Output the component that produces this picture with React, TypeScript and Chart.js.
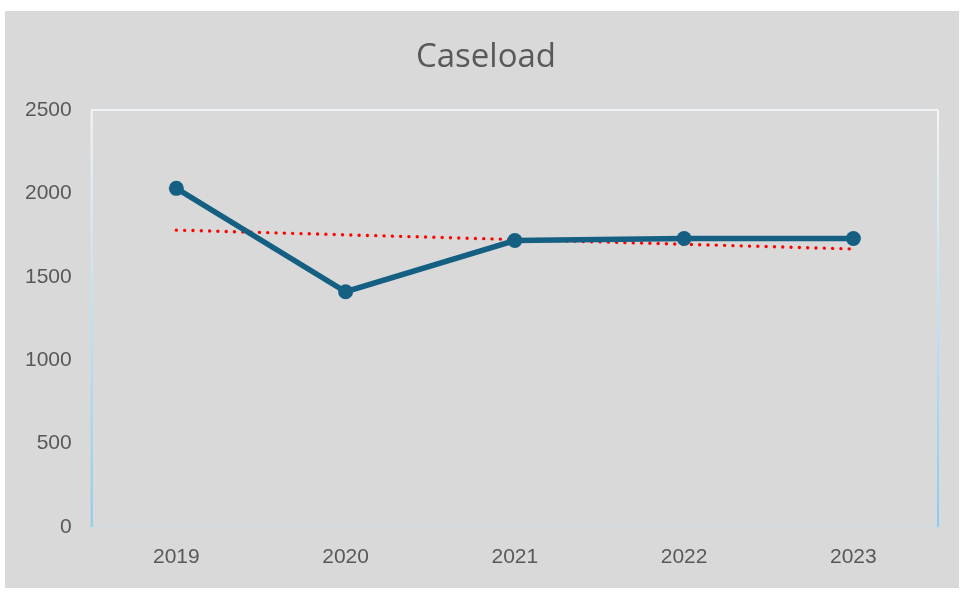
import React, { useEffect, useRef } from "react";
import { Chart, registerables } from "chart.js";

Chart.register(...registerables);

const title = "Caseload";
const years = ["2019", "2020", "2021", "2022", "2023"];
const caseload = [2030, 1410, 1717, 1729, 1729];
const yTicks = [0, 500, 1000, 1500, 2000, 2500];

function linearTrend(values: number[]): number[] {
  const n = values.length;
  const xs = values.map((_, i) => i + 1);
  const mx = xs.reduce((a, b) => a + b, 0) / n;
  const my = values.reduce((a, b) => a + b, 0) / n;
  let num = 0;
  let den = 0;
  for (let i = 0; i < n; i++) {
    num += (xs[i] - mx) * (values[i] - my);
    den += (xs[i] - mx) * (xs[i] - mx);
  }
  const slope = num / den;
  return xs.map((x) => my + slope * (x - mx));
}

const plotBorder = {
  id: "plotBorder",
  afterDraw(chart: any) {
    const { ctx, chartArea } = chart;
    const { left, right, top, bottom } = chartArea;
    ctx.save();
    ctx.lineWidth = 2;
    ctx.strokeStyle = "#eef4f8";
    ctx.beginPath();
    ctx.moveTo(left, top);
    ctx.lineTo(right, top);
    ctx.stroke();
    ctx.strokeStyle = "#d0dbe0";
    ctx.beginPath();
    ctx.moveTo(left, bottom);
    ctx.lineTo(right, bottom);
    ctx.stroke();
    const g = ctx.createLinearGradient(0, top, 0, bottom);
    g.addColorStop(0, "#f2f6f9");
    g.addColorStop(1, "#86cdf0");
    ctx.strokeStyle = g;
    ctx.beginPath();
    ctx.moveTo(left, top);
    ctx.lineTo(left, bottom);
    ctx.moveTo(right, top);
    ctx.lineTo(right, bottom);
    ctx.stroke();
    // title
    ctx.fillStyle = "#595959";
    ctx.font = "33px 'Open Sans', sans-serif";
    ctx.textAlign = "center";
    ctx.textBaseline = "alphabetic";
    ctx.fillText(title, chart.width / 2 + 4, 56);
    ctx.restore();
  },
};

export default function App() {
  const ref = useRef<HTMLCanvasElement | null>(null);

  useEffect(() => {
    if (!ref.current) return;
    const trend = linearTrend(caseload);
    const chart = new Chart(ref.current, {
      type: "line",
      data: {
        labels: years,
        datasets: [
          {
            label: "Trend",
            data: trend,
            borderColor: "#ff0000",
            borderWidth: 3.4,
            borderDash: [0.01, 8.3],
            borderCapStyle: "round",
            pointRadius: 0,
            fill: false,
            order: 2,
          },
          {
            label: "Caseload",
            data: caseload,
            borderColor: "#156082",
            backgroundColor: "#156082",
            borderWidth: 5.5,
            pointRadius: 7.5,
            pointBackgroundColor: "#156082",
            pointBorderWidth: 0,
            fill: false,
            tension: 0,
            order: 1,
          },
        ],
      },
      options: {
        animation: false,
        responsive: false,
        maintainAspectRatio: false,
        layout: { padding: { left: 0, right: 21, top: 99, bottom: 0 } },
        plugins: {
          legend: { display: false },
          tooltip: { enabled: false },
          title: { display: false },
        },
        scales: {
          x: {
            offset: true,
            grid: { display: false, drawTicks: false },
            border: { display: false },
            ticks: {
              color: "#595959",
              font: { family: "'Liberation Sans', Arial, sans-serif", size: 21 },
              padding: 18,
            },
          },
          y: {
            min: 0,
            max: 2500,
            afterBuildTicks: (axis: any) => {
              axis.ticks = yTicks.map((v) => ({ value: v }));
            },
            grid: { display: false, drawTicks: false },
            border: { display: false },
            ticks: {
              color: "#595959",
              font: { family: "'Liberation Sans', Arial, sans-serif", size: 21 },
              padding: 20,
              callback: (v: any) => String(v),
            },
          },
        },
      },
      plugins: [plotBorder],
    });
    return () => chart.destroy();
  }, []);

  return (
    <div
      style={{
        position: "fixed",
        left: 0,
        top: 0,
        width: 964,
        height: 592,
        background: "#ffffff",
      }}
    >
      <div
        style={{
          position: "absolute",
          left: 5,
          top: 11,
          width: 954,
          height: 577,
          background: "#d9d9d9",
        }}
      >
        <canvas ref={ref} width={954} height={577} style={{ display: "block" }} />
      </div>
    </div>
  );
}
